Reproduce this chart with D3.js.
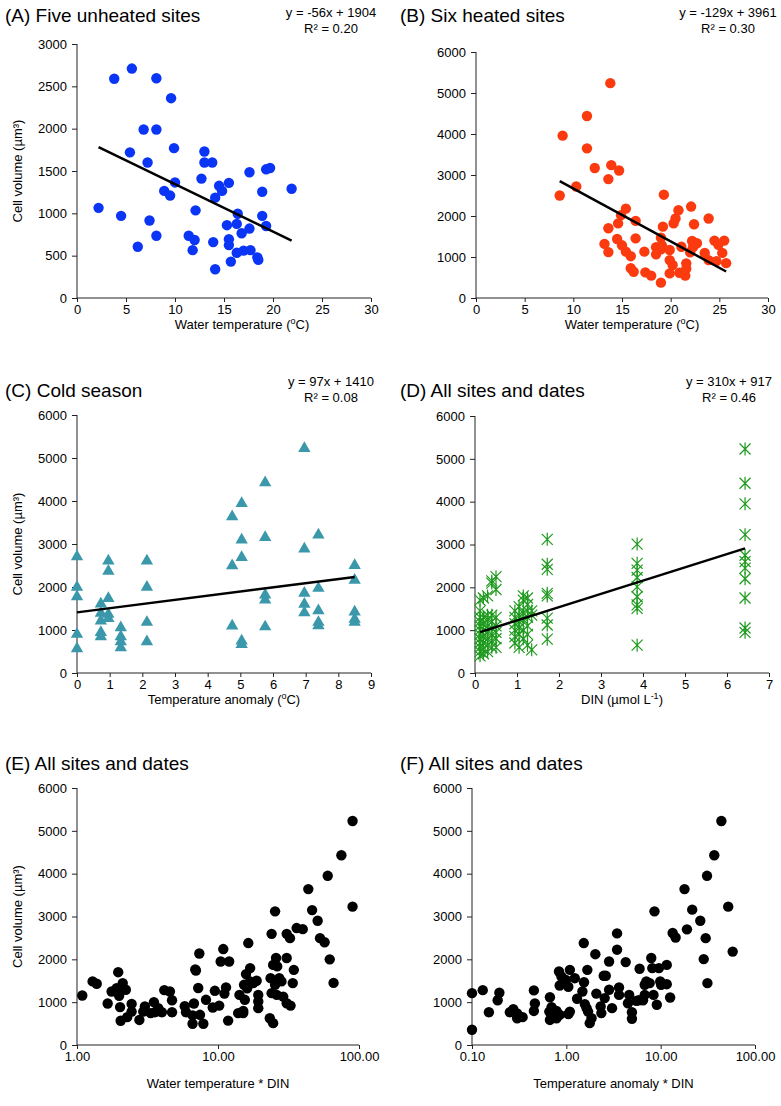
<!DOCTYPE html>
<html>
<head>
<meta charset="utf-8">
<script src="https://cdn.jsdelivr.net/npm/d3@7"></script>
<style>
  body { margin: 0; background: #fff; }
  svg { font-family: "Liberation Sans", Arial, sans-serif; }
  .axis path, .axis line { stroke: #222; }
  .axis text { font-size: 13px; fill: #000; }
</style>
</head>
<body>
<div id="chart"></div>
<script>
// (A) five unheated sites: [water temperature, cell volume]
const unheatedPts = [
  [3.8,2590],[5.6,2710],[8.1,2595],[9.6,2360],[6.8,1990],[8.1,1990],[9.9,1770],[5.4,1720],
  [7.2,1600],[10.0,1365],[8.9,1265],[9.5,1210],[2.2,1065],[4.5,970],[7.4,915],[8.1,735],
  [6.2,605],[11.4,735],[12.0,685],[11.8,565],[12.1,1035],[12.7,1410],[13.0,1730],[13.0,1600],
  [13.8,1600],[17.6,1485],[19.3,1520],[19.7,1535],[21.9,1290],[14.5,1325],[15.5,1360],
  [14.8,1265],[14.1,1185],[18.9,1255],[16.4,995],[15.3,860],[16.3,875],[18.9,970],[19.3,850],
  [17.6,820],[16.8,765],[13.9,660],[15.5,695],[15.5,625],[16.3,535],[17.0,560],[17.7,565],
  [18.4,480],[18.5,450],[15.7,430],[14.1,340]
];

// (B) six heated sites
const heatedPts = [
  [8.9,3960],[11.4,4440],[11.4,3650],[10.3,2720],[8.6,2500],[13.8,5240],[12.2,3170],[13.9,3240],
  [14.7,3110],[13.6,2900],[19.3,2520],[15.4,2180],[20.8,2140],[22.1,2230],[14.9,2020],[14.6,1820],
  [16.4,1880],[20.5,1940],[20.3,1820],[22.4,1800],[23.9,1940],[13.6,1700],[19.2,1740],[13.2,1320],
  [14.5,1440],[15.0,1285],[16.4,1455],[19.0,1470],[13.6,1120],[15.4,1130],[15.9,1020],[17.3,1130],
  [18.5,1240],[19.0,1190],[18.5,1065],[19.1,1285],[19.9,1170],[21.1,1250],[22.2,1390],[22.7,1335],
  [22.3,1240],[22.0,1115],[19.9,925],[20.2,805],[21.6,845],[15.9,725],[16.2,640],[17.4,625],
  [18.0,545],[19.0,375],[19.9,600],[20.9,615],[21.5,545],[21.6,715],[23.9,925],
  [24.5,1400],[25.5,1400],[24.9,1300],[25.3,1100],[24.7,900],[25.7,850],[23.5,1100]
];

// (C) cold season: [temperature anomaly, cell volume]
const coldPts = [
  [0,2705],[0,1995],[0,1775],[0,900],[0,565],
  [0.73,1605],[0.73,1390],[0.73,1210],[0.73,945],[0.73,845],
  [0.96,2605],[0.96,2370],[0.96,1735],[0.96,1365],[0.96,1270],
  [1.34,1055],[1.34,845],[1.34,730],[1.34,590],
  [2.14,2605],[2.14,1995],[2.14,1180],[2.14,730],
  [4.75,3635],[4.75,2495],[4.75,1095],
  [5.04,3945],[5.04,3095],[5.04,2690],[5.04,745],[5.04,665],
  [5.76,4425],[5.76,3155],[5.76,1815],[5.76,1700],[5.76,1075],
  [6.96,5225],[6.96,2885],[6.96,1855],[6.96,1600],[6.96,1405],
  [7.39,3210],[7.39,1970],[7.39,1450],[7.39,1180],[7.39,1100],
  [8.5,2500],[8.5,2160],[8.5,1420],[8.5,1250],[8.5,1180]
];

// (D) all sites and dates: [DIN, cell volume]
const dinPts = [
  [0.12,1700],[0.12,1450],[0.12,1300],[0.12,1200],[0.12,1100],[0.12,1000],[0.12,900],[0.12,800],
  [0.12,700],[0.12,600],[0.12,500],[0.12,400],
  [0.2,1750],[0.2,1300],[0.2,1150],[0.2,1000],[0.2,850],[0.2,700],[0.2,550],[0.2,450],
  [0.3,1800],[0.3,1350],[0.3,1250],[0.3,1100],[0.3,950],[0.3,800],[0.3,650],[0.3,500],
  [0.4,2150],[0.4,2100],[0.4,1350],[0.4,1200],[0.4,1050],[0.4,900],[0.4,750],[0.4,600],
  [0.5,2250],[0.5,1950],[0.5,1300],[0.5,1100],[0.5,950],[0.5,800],[0.5,600],
  [0.95,1450],[0.95,1300],[0.95,1150],[0.95,1000],[0.95,850],[0.95,700],
  [1.05,1550],[1.05,1350],[1.05,1200],[1.05,1050],[1.05,900],[1.05,600],
  [1.15,1800],[1.15,1700],[1.15,1400],[1.15,1250],[1.15,1000],[1.15,800],
  [1.25,1750],[1.25,1600],[1.25,1450],[1.25,1300],[1.25,1100],[1.25,900],[1.25,650],
  [1.35,1450],[1.35,1350],[1.35,540],
  [1.72,3120],[1.72,2540],[1.72,2420],[1.72,1860],[1.72,1800],[1.72,1280],[1.72,1120],[1.72,790],
  [3.86,3010],[3.86,2560],[3.86,2400],[3.86,2230],[3.86,2010],[3.86,1780],[3.86,1590],[3.86,1510],[3.86,650],
  [6.43,5230],[6.43,4430],[6.43,3950],[6.43,3230],[6.43,2750],[6.43,2600],[6.43,2450],[6.43,2200],
  [6.43,1750],[6.43,1050],[6.43,950]
];

// (E) all sites and dates: [water temperature * DIN, cell volume]
const tempDinPts = [
  [1.09,1155],[1.29,1485],[1.38,1430],[1.65,970],[1.76,1250],[1.96,1700],[1.91,1325],[2.11,1445],
  [2.22,1290],[1.99,1150],[2.02,885],[2.04,565],[2.27,650],[2.44,960],[2.44,780],[2.77,585],
  [2.95,780],[3.03,900],[3.33,745],[3.51,1000],[3.57,765],[3.77,860],[4.0,765],[4.16,1280],
  [4.56,1250],[4.72,1045],[4.72,765],[5.81,905],[5.93,765],[6.61,690],[6.75,970],[6.9,1765],
  [7.37,2135],[7.24,1330],[7.45,705],[6.97,1740],[6.6,495],[8.22,1055],[7.87,495],[9.18,875],
  [9.5,1265],[10.2,920],[11.1,1200],[11.4,1345],[10.9,2240],[10.45,1950],[12.0,1950],[11.8,570],
  [13.9,745],[14.2,1170],[15.1,795],[15.5,1055],[15.3,1405],[15.8,1655],[16.4,2380],[16.9,1795],
  [16.9,1485],[16.1,1325],[17.8,1445],[18.8,1500],[19.3,1170],[19.3,1015],[19.3,860],[15.1,745],
  [24.0,2595],[25.4,3120],[30.7,2595],[32.4,2495],[36.1,2730],[39.9,2705],[43.7,3640],[46.5,3150],
  [50.9,2900],[52.9,2495],[25.8,2030],[26.3,1835],[30.7,2030],[24.6,1870],[23.6,1560],[27.2,1560],
  [34.5,1755],[33.9,1445],[24.0,1210],[26.1,1170],[29.0,1130],[30.7,975],[32.7,920],[23.3,625],
  [24.6,510],[28.2,1485],[25.4,1405],
  [57,2400],[60,3950],[62,2000],[66,1450],[75,4430],[90,5230],[90,3230]
];

// (F) all sites and dates: [temperature anomaly * DIN, cell volume]
const anomDinPts = [
  [0.1,1210],[0.1,355],[0.13,1280],[0.151,765],[0.187,1045],[0.195,1220],[0.252,765],[0.274,835],
  [0.301,735],[0.301,625],[0.344,650],[0.453,1275],[0.464,970],[0.453,795],[0.67,1115],[0.697,885],
  [0.66,780],[0.67,585],[0.787,795],[0.836,1715],[0.887,1600],[0.85,1390],[0.99,1520],[1.09,1755],
  [1.05,1360],[1.23,1560],[1.09,780],[1.05,720],[1.30,1080],[1.48,1250],[1.57,955],[1.53,2380],
  [1.67,1755],[1.70,780],[0.85,705],[0.787,625],
  [2.03,2120],[1.54,1465],[2.08,1200],[1.64,860],[1.85,625],[1.77,510],[2.31,900],[2.35,745],
  [2.49,1615],[2.62,1615],[2.84,1950],[2.55,1095],[2.84,1290],[3.05,860],[3.45,2605],[3.45,2225],
  [3.62,1345],[3.62,1170],[4.26,1935],[4.64,1170],[4.5,975],[4.96,765],[4.96,610],[5.53,1030],
  [5.98,1780],[5.87,1045],[6.5,1045],[6.77,1405],[6.77,1170],[7.05,1485],[7.65,1445],[7.95,2030],
  [8.15,1795],[8.4,1170],[8.6,3120],[9.1,940],[9.58,1795],[9.9,1485],[10.1,1405],[11.6,1420],
  [11.6,1870],[12.6,1110],[13.4,2615],[14.4,2510],[17.9,3640],[19.0,2700],[21.6,3160],[26.3,2900],
  [30.0,2495],[28.6,2005],[31.3,1445],[31.0,3950],
  [37,4430],[44,5230],[52,3230],[58,2180]
];

const yTicks6000 = [0, 1000, 2000, 3000, 4000, 5000, 6000];
const yTicks3000 = [0, 500, 1000, 1500, 2000, 2500, 3000];
const tempTicks = [0, 5, 10, 15, 20, 25, 30];
const anomTicks = [0, 1, 2, 3, 4, 5, 6, 7, 8, 9];
const dinTicks = [0, 1, 2, 3, 4, 5, 6, 7];
const logTicksE = [1, 10, 100];
const logTicksF = [0.1, 1, 10, 100];

const W = 781, H = 1106;
const svg = d3.select('#chart').append('svg')
  .attr('width', W).attr('height', H);

// title baseline / equation baseline per row
const rowTitleY = [22, 397, 770];
const rowEqY = [17, 386];

const panels = [
  { row: 0, title: '(A) Five unheated sites', pts: unheatedPts, box: [77, 371, 44, 298],
    xd: [0, 30], xt: tempTicks, yd: [0, 3000], yt: yTicks3000,
    mark: 'circle', color: '#0a35f5', fit: [-56, 1904], eq: ['y = -56x + 1904', 'R² = 0.20'],
    xlab: ['Water temperature (', 'o', 'C)'], xlabDx: 18, ylab: true },
  { row: 0, title: '(B) Six heated sites', pts: heatedPts, box: [476, 768, 52, 298],
    xd: [0, 30], xt: tempTicks, yd: [0, 6000], yt: yTicks6000,
    mark: 'circle', color: '#fb3a10', fit: [-129, 3961], eq: ['y = -129x + 3961', 'R² = 0.30'],
    xlab: ['Water temperature (', 'o', 'C)'], xlabDx: 10, ylab: false },
  { row: 1, title: '(C) Cold season', pts: coldPts, box: [77, 371, 415, 673],
    xd: [0, 9], xt: anomTicks, yd: [0, 6000], yt: yTicks6000,
    mark: 'tri', color: '#3b97aa', fit: [97, 1410], eq: ['y = 97x + 1410', 'R² = 0.08'],
    xlab: ['Temperature anomaly (', 'o', 'C)'], ylab: true },
  { row: 1, title: '(D) All sites and dates', pts: dinPts, box: [475, 769, 416, 673],
    xd: [0, 7], xt: dinTicks, yd: [0, 6000], yt: yTicks6000,
    mark: 'star', color: '#1e9a1e', fit: [310, 917], eq: ['y = 310x + 917', 'R² = 0.46'],
    xlab: ['DIN (µmol L', '-1', ')'], ylab: false },
  { row: 2, title: '(E) All sites and dates', pts: tempDinPts, box: [77, 359, 788, 1045],
    xd: [1, 100], xt: logTicksE, log: true, yd: [0, 6000], yt: yTicks6000,
    mark: 'circle', color: '#000',
    xlab: ['Water temperature * DIN'], ylab: true },
  { row: 2, title: '(F) All sites and dates', pts: anomDinPts, box: [472, 755, 788, 1045],
    xd: [0.1, 100], xt: logTicksF, log: true, yd: [0, 6000], yt: yTicks6000,
    mark: 'circle', color: '#000',
    xlab: ['Temperature anomaly * DIN'], ylab: false }
];

panels.forEach(p => {
  const [l, r, t, b] = p.box;
  const x = (p.log ? d3.scaleLog() : d3.scaleLinear()).domain(p.xd).range([l, r]);
  const y = d3.scaleLinear().domain(p.yd).range([b, t]);
  const g = svg.append('g');

  // axes
  g.append('g').attr('class', 'axis')
    .attr('transform', `translate(${l},0)`)
    .call(d3.axisLeft(y).tickValues(p.yt).tickSize(5).tickPadding(5).tickFormat(d3.format('d')))
    .call(s => s.select('.domain').attr('d', `M0,${b}V${t}`));
  g.append('g').attr('class', 'axis')
    .attr('transform', `translate(0,${b})`)
    .call(d3.axisBottom(x).tickValues(p.xt).tickSize(4).tickPadding(3)
      .tickFormat(p.log ? d3.format('.2f') : d3.format('d')))
    .call(s => s.select('.domain').attr('d', `M${l},0H${r}`));

  // title
  const left = l < 400 ? 5 : 400;
  g.append('text').attr('x', left).attr('y', rowTitleY[p.row])
    .attr('font-size', 19).text(p.title);

  // markers
  const pts = p.pts;
  if (p.mark === 'circle') {
    g.selectAll('circle.pt').data(pts).enter().append('circle')
      .attr('class', 'pt')
      .attr('cx', d => x(d[0])).attr('cy', d => y(d[1]))
      .attr('r', 5.2).attr('fill', p.color);
  } else if (p.mark === 'tri') {
    const sym = d3.symbol().type(d3.symbolTriangle).size(66);
    g.selectAll('path.pt').data(pts).enter().append('path')
      .attr('class', 'pt')
      .attr('transform', d => `translate(${x(d[0])},${y(d[1])})`)
      .attr('d', sym).attr('fill', p.color);
  } else {
    const star = 'M-5.5,-5.5L5.5,5.5M-5.5,5.5L5.5,-5.5M0,-6.5L0,6.5';
    g.selectAll('path.pt').data(pts).enter().append('path')
      .attr('class', 'pt')
      .attr('transform', d => `translate(${x(d[0])},${y(d[1])})`)
      .attr('d', star).attr('fill', 'none')
      .attr('stroke', p.color).attr('stroke-width', 1.2);
  }

  // fitted trend line over the range of the data
  if (p.fit) {
    const ext = d3.extent(pts, d => d[0]);
    const line = d3.line().x(d => x(d)).y(d => y(p.fit[0] * d + p.fit[1]));
    g.append('path').datum(ext).attr('d', line)
      .attr('stroke', '#000').attr('stroke-width', 2.5).attr('fill', 'none');
    const cx = r - 40;
    g.append('text').attr('x', cx).attr('y', rowEqY[p.row])
      .attr('text-anchor', 'middle').attr('font-size', 13).text(p.eq[0]);
    g.append('text').attr('x', cx).attr('y', rowEqY[p.row] + 16)
      .attr('text-anchor', 'middle').attr('font-size', 13).text(p.eq[1]);
  }

  // x axis title
  const xt = g.append('text').attr('x', (l + r) / 2 + (p.xlabDx || 0)).attr('y', b + (p.log ? 43 : 31))
    .attr('text-anchor', 'middle').attr('font-size', 13);
  xt.append('tspan').text(p.xlab[0]);
  if (p.xlab.length > 1) {
    xt.append('tspan').attr('font-size', 9).attr('dy', -5).text(p.xlab[1]);
    xt.append('tspan').attr('dy', 5).text(p.xlab[2]);
  }

  // y axis title
  if (p.ylab) {
    g.append('text')
      .attr('transform', `translate(22,${(t + b) / 2}) rotate(-90)`)
      .attr('text-anchor', 'middle').attr('font-size', 13)
      .text('Cell volume (µm³)');
  }
});
</script>
</body>
</html>
